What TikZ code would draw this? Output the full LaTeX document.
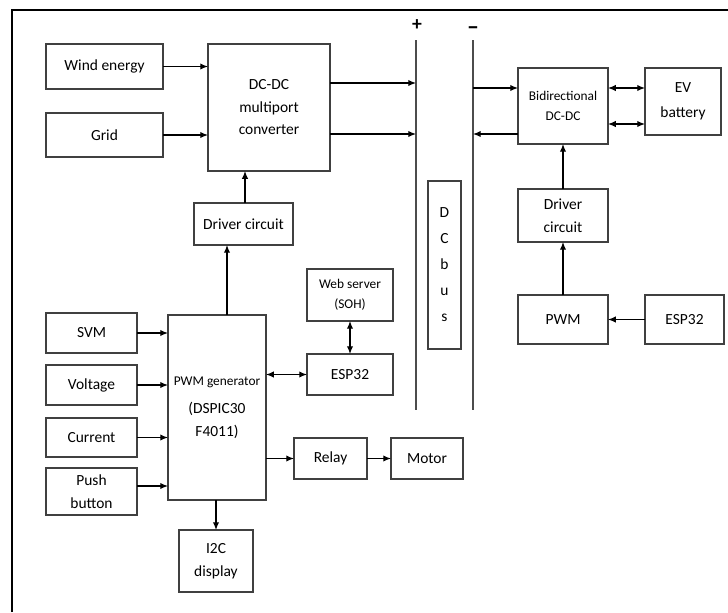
\documentclass[tikz,border=0pt]{standalone}
\usepackage{fontspec}
\setmainfont{Carlito}
\usetikzlibrary{arrows.meta,calc}

\newcommand{\pxu}{0.7113pt}

\tikzset{
	block/.style={draw=black!75,inner sep=0pt,outer sep=0pt,align=center,
		font=\fontsize{11}{16}\selectfont},
	bus/.style={draw=black!70,line width=1pt},
	small/.style={font=\fontsize{9.5}{14}\selectfont}
}

\begin{document}
\begin{tikzpicture}[x=0.025cm,y=-0.025cm,>={Latex[length=5.5pt,width=4.5pt]},
	line width=0.8pt]
	
	\useasboundingbox (0,0) rectangle (728,612);
	\draw[line width=1.6pt] (12,612) -- (12,10) -- (728,10);
	
	\node[block,minimum width=117*\pxu,minimum height=45*\pxu] (wind) at (104.5,66.5) {Wind energy};
	\node[block,minimum width=117*\pxu,minimum height=44*\pxu] (grid) at (104.5,135) {Grid};
	\node[block,minimum width=122*\pxu,minimum height=127*\pxu] (conv) at (269,107.5) {DC-DC\\multiport\\converter};
	\node[block,minimum width=99*\pxu,minimum height=42*\pxu] (drv1) at (243.5,224) {Driver circuit};
	
	\node[block,minimum width=91*\pxu,minimum height=40*\pxu] (svm) at (91.5,333) {SVM};
	\node[block,minimum width=91*\pxu,minimum height=40*\pxu] (volt) at (91.5,385) {Voltage};
	\node[block,minimum width=91*\pxu,minimum height=39*\pxu] (curr) at (91.5,437.5) {Current};
	\node[block,minimum width=91*\pxu,minimum height=47*\pxu] (push) at (91.5,491.5) {Push\\button};
	\node[block,minimum width=98*\pxu,minimum height=185*\pxu] (gen) at (217,407.5)
		{{\fontsize{9.5}{12}\selectfont PWM generator}\\[4pt](DSPIC30\\F4011)};
	\node[block,minimum width=74*\pxu,minimum height=62*\pxu] (i2c) at (216,561) {I2C\\display};
	\node[block,small,minimum width=86*\pxu,minimum height=52*\pxu] (web) at (350,295) {Web server\\(SOH)};
	\node[block,minimum width=86*\pxu,minimum height=41*\pxu] (esp1) at (350,374.5) {ESP32};
	\node[block,minimum width=73*\pxu,minimum height=41*\pxu] (relay) at (330.5,458.5) {Relay};
	\node[block,minimum width=72*\pxu,minimum height=41*\pxu] (motor) at (427,458.5) {Motor};
	
	\coordinate (ptop) at (416,40);
	\coordinate (pbot) at (416,410);
	\coordinate (mtop) at (473,40);
	\coordinate (mbot) at (473,410);
	\node[font=\bfseries\fontsize{14}{14}\selectfont] (plus) at (417,25) {+};
	\node[font=\bfseries\fontsize{17}{17}\selectfont] (minus) at (473,31) {–};
	\node[block,minimum width=33*\pxu,minimum height=168*\pxu,font=\fontsize{11}{18.5}\selectfont] (dcbus) at (444.5,265) {D\\C\\b\\u\\s};
	
	\node[block,small,minimum width=90*\pxu,minimum height=76*\pxu] (bidir) at (563,106) {Bidirectional\\DC-DC};
	\node[block,minimum width=76*\pxu,minimum height=67*\pxu,font=\fontsize{11}{18}\selectfont] (ev) at (683,101.5) {EV\\battery};
	\node[block,minimum width=90*\pxu,minimum height=53*\pxu] (drv2) at (563,215.5) {Driver\\circuit};
	\node[block,minimum width=90*\pxu,minimum height=49*\pxu] (pwm) at (563,319.5) {PWM};
	\node[block,minimum width=79*\pxu,minimum height=49*\pxu] (esp2) at (684.5,319.5) {ESP32};
	
	\draw[bus] (ptop) -- (pbot);
	\draw[bus] (mtop) -- (mbot);
	
	\draw[->] (wind.east) -- (wind.east -| conv.west);
	\draw[->] (grid.east) -- (grid.east -| conv.west);
	\draw[->] (conv.east |- 0,83) -- (ptop |- 0,83);
	\draw[->] (conv.east |- 0,134) -- (ptop |- 0,134);
	\draw[->] (drv1.north -| 245,0) -- (conv.south -| 245,0);
	\draw[->] (gen.north -| 227,0) -- (drv1.south -| 227,0);
	
	\foreach \n in {svm,volt,curr}
		\draw[->] (\n.east) -- (\n.east -| gen.west);
	\draw[->] (push.east |- 0,486) -- (gen.west |- 0,486);
	\draw[<->] (web.south) -- (esp1.north);
	\draw[<->] (gen.east |- esp1) -- (esp1.west);
	\draw[->] (gen.east |- relay) -- (relay.west);
	\draw[->] (relay.east) -- (motor.west);
	\draw[->] (gen.south -| i2c) -- (i2c.north);
	
	\draw[->] (mtop |- 0,88) -- (bidir.west |- 0,88);
	\draw[->] (bidir.west |- 0,134) -- (mtop |- 0,134);
	\draw[<->] (bidir.east |- 0,88) -- (ev.west |- 0,88);
	\draw[<->] (bidir.east |- 0,124) -- (ev.west |- 0,124);
	\draw[->] (drv2.north) -- (bidir.south);
	\draw[->] (pwm.north) -- (drv2.south);
	\draw[->] (esp2.west) -- (pwm.east);
\end{tikzpicture}
\end{document}
